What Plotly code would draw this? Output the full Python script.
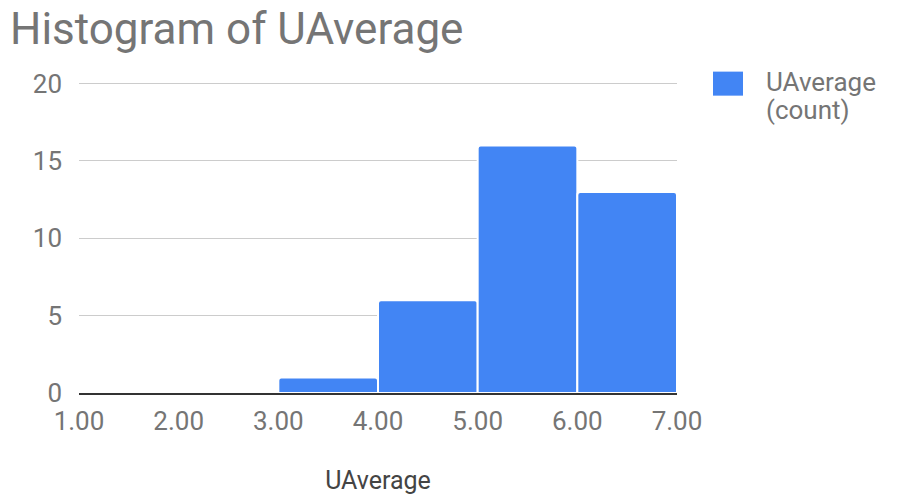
import plotly.graph_objects as go

# Histogram bins of UAverage and their counts
bin_edges = [1.0, 2.0, 3.0, 4.0, 5.0, 6.0, 7.0]
counts = [0, 0, 1, 6, 16, 13]
series_name = "UAverage"
legend_lines = ["UAverage", "(count)"]
x_ticks = [1, 2, 3, 4, 5, 6, 7]
x_tick_labels = ["1.00", "2.00", "3.00", "4.00", "5.00", "6.00", "7.00"]
y_ticks = [0, 5, 10, 15, 20]

centers = [(a + b) / 2 for a, b in zip(bin_edges[:-1], bin_edges[1:])]
widths = [b - a for a, b in zip(bin_edges[:-1], bin_edges[1:])]

BLUE = "#4285F4"
GREY = "#757575"
FONT = "Roboto"

W, H = 899, 497
Y_TOP = 20.3                      # small headroom so the 20 gridline is drawn
PX_PER_UNIT = (393 - 84) / 20     # 0 sits at y=393px, 20 at y=84px
ML, MR, MB = 79, 222, 104
MT = 84 - (Y_TOP - 20) * PX_PER_UNIT
PW, PH = W - ML - MR, H - MT - MB


def px_x(p):
    return (p - ML) / PW


def px_y(p):
    return 1 - (p - MT) / PH


fig = go.Figure()
fig.add_trace(go.Bar(
    x=centers,
    y=counts,
    width=widths,
    name=series_name,
    marker=dict(color=BLUE, line=dict(color="white", width=2)),
    showlegend=False,
))

fig.update_layout(
    width=W,
    height=H,
    margin=dict(l=ML, r=MR, t=MT, b=MB, pad=0, autoexpand=False),
    paper_bgcolor="white",
    plot_bgcolor="white",
    barcornerradius=3,
    font=dict(family=FONT, color=GREY, size=26),
    title=dict(
        text="Histogram of UAverage",
        font=dict(family=FONT, size=44, color=GREY),
        xref="container", yref="container",
        x=10 / W, xanchor="left",
        y=1 - 29 / H, yanchor="middle",
    ),
    xaxis=dict(
        range=[bin_edges[0], bin_edges[-1]],
        tickmode="array",
        tickvals=x_ticks,
        ticktext=x_tick_labels,
        showgrid=False,
        zeroline=False,
        showline=True,
        linecolor="#333333",
        linewidth=2,
        ticks="",
        automargin=False,
        ticklabelstandoff=4,
        tickfont=dict(size=26, color=GREY),
        title=dict(text=series_name, font=dict(size=25, color="#444444"), standoff=36),
    ),
    yaxis=dict(
        range=[0, Y_TOP],
        tickmode="array",
        tickvals=y_ticks,
        showgrid=True,
        gridcolor="#cccccc",
        gridwidth=1,
        zeroline=False,
        ticks="",
        automargin=False,
        ticklabelstandoff=16,
        tickfont=dict(size=26, color=GREY),
    ),
    shapes=[dict(
        type="rect", xref="paper", yref="paper",
        x0=px_x(713), x1=px_x(743), y0=px_y(96), y1=px_y(72),
        fillcolor=BLUE, line=dict(width=0),
    )],
    annotations=[
        dict(text=legend_lines[0], xref="paper", yref="paper",
             x=px_x(764), y=px_y(82), xanchor="left", yanchor="middle",
             showarrow=False, font=dict(size=26, color=GREY)),
        dict(text=legend_lines[1], xref="paper", yref="paper",
             x=px_x(764), y=px_y(110), xanchor="left", yanchor="middle",
             showarrow=False, font=dict(size=26, color=GREY)),
    ],
)

fig.write_html("out.html")
